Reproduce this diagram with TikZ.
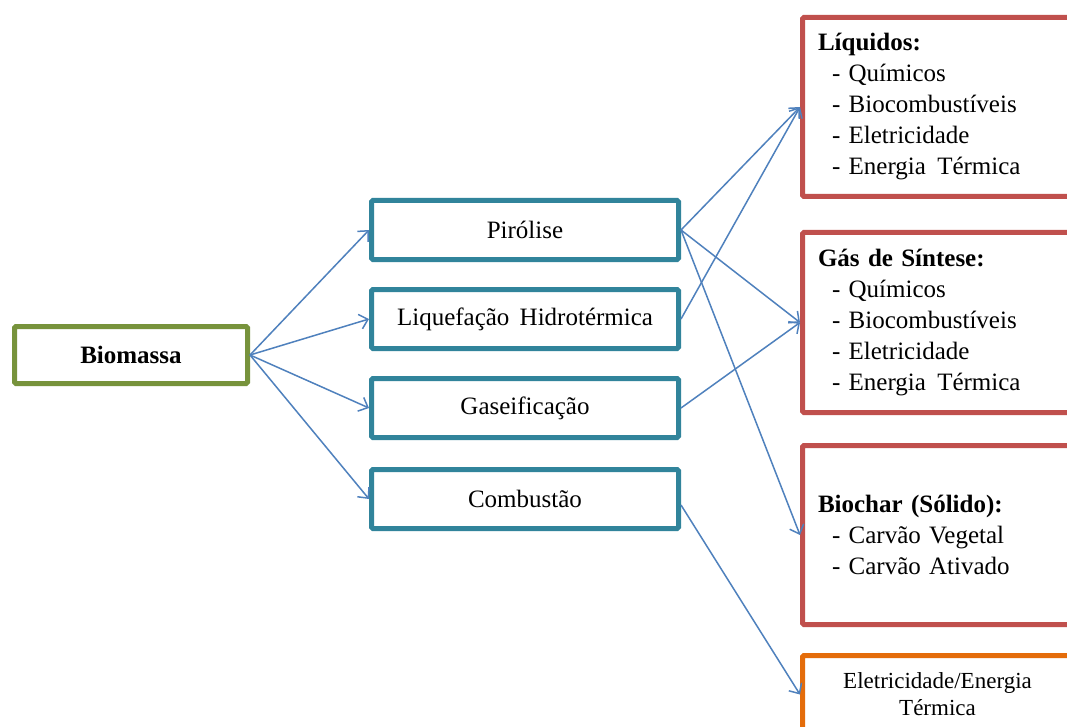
\documentclass[tikz,border=0pt]{standalone}
\usepackage{fontspec}
\setmainfont{Liberation Serif}
\usetikzlibrary{arrows.meta}
\definecolor{cgreen}{HTML}{77933C}
\definecolor{cteal}{HTML}{31849B}
\definecolor{cred}{HTML}{C0504D}
\definecolor{corange}{HTML}{E46C0A}
\definecolor{cblue}{HTML}{4F81BD}
\begin{document}
\begin{tikzpicture}[x=1pt,y=-1pt,
  font=\fontsize{25}{31}\selectfont,
  box/.style={draw, line width=5pt, rounded corners=1.5pt, fill=white, inner sep=0pt},
  srcbox/.style={box, draw=cgreen, minimum width=233pt, minimum height=57pt},
  procbox/.style={box, draw=cteal, minimum width=307pt, minimum height=59pt},
  outbox/.style={box, draw=cred, minimum width=270pt, text width=239pt, inner xsep=15.5pt, align=left},
  energybox/.style={box, draw=corange, minimum width=270pt, minimum height=78pt, align=center, font=\fontsize{23}{27}\selectfont},
  arr/.style={draw=cblue, line width=1.5pt, -{Straight Barb[length=8pt,width=15pt,line width=1.5pt]}},
]
\useasboundingbox (0,0) rectangle (1067,727);
\clip (0,0) rectangle (1067,727);
\fill[white] (0,0) rectangle (1067,727);

\node[srcbox] (bio) at (131,355) {\textbf{Biomassa}};

\node[procbox] (pir) at (525,230) {Pirólise};
\node[procbox] (liq) at (525,319) {Liquefação\hspace{4pt} Hidrotérmica};
\node[procbox] (gas) at (525,408) {Gaseificação};
\node[procbox] (com) at (525,499) {Combustão};

\node[outbox, minimum height=179pt] (oliq) at (937.5,107) {\textbf{Líquidos:}\\
\hspace*{14pt}- Químicos\\
\hspace*{14pt}- Biocombustíveis\\
\hspace*{14pt}- Eletricidade\\
\hspace*{14pt}- Energia\hspace{3pt} Térmica};

\node[outbox, minimum height=180pt] (ogas) at (937.5,322.5) {\textbf{Gás de Síntese:}\\
\hspace*{14pt}- Químicos\\
\hspace*{14pt}- Biocombustíveis\\
\hspace*{14pt}- Eletricidade\\
\hspace*{14pt}- Energia\hspace{3pt} Térmica};

\node[outbox, minimum height=179pt] (obio) at (937.5,535) {\textbf{Biochar (Sólido):}\\
\hspace*{14pt}- Carvão Vegetal\\
\hspace*{14pt}- Carvão Ativado};

\node[energybox] (oene) at (937.5,694.5) {Eletricidade/Energia\\Térmica};

\draw[arr] (bio.east) -- (pir.west);
\draw[arr] (bio.east) -- (liq.west);
\draw[arr] (bio.east) -- (gas.west);
\draw[arr] (bio.east) -- (com.west);

\draw[arr] (pir.east) -- (oliq.west);
\draw[arr] (pir.east) -- (ogas.west);
\draw[arr] (pir.east) -- (obio.west);
\draw[arr] (liq.east) -- (oliq.west);
\draw[arr] (gas.east) -- (ogas.west);
\draw[arr] ([yshift=-6pt]com.east) -- (oene.west);
\end{tikzpicture}
\end{document}
